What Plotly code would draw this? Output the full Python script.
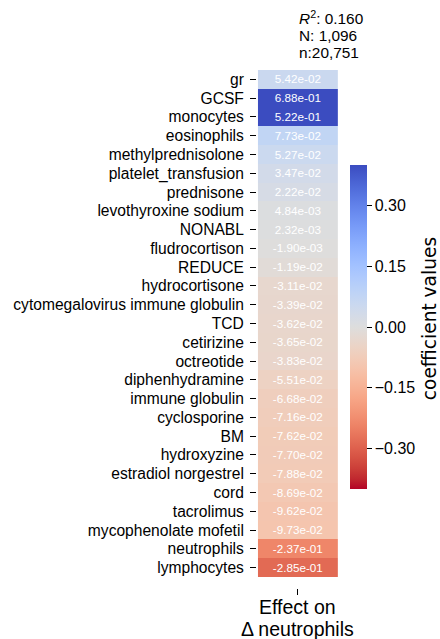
import plotly.graph_objects as go

# Regression coefficients for the change in neutrophil counts
features = [
    "gr", "GCSF", "monocytes", "eosinophils", "methylprednisolone",
    "platelet_transfusion", "prednisone", "levothyroxine sodium", "NONABL",
    "fludrocortison", "REDUCE", "hydrocortisone",
    "cytomegalovirus immune globulin", "TCD", "cetirizine", "octreotide",
    "diphenhydramine", "immune globulin", "cyclosporine", "BM", "hydroxyzine",
    "estradiol norgestrel", "cord", "tacrolimus", "mycophenolate mofetil",
    "neutrophils", "lymphocytes",
]
coefficients = [
    5.42e-02, 6.88e-01, 5.22e-01, 7.73e-02, 5.27e-02,
    3.47e-02, 2.22e-02, 4.84e-03, 2.32e-03,
    -1.90e-03, -1.19e-02, -3.11e-02,
    -3.39e-02, -3.62e-02, -3.65e-02, -3.83e-02,
    -5.51e-02, -6.68e-02, -7.16e-02, -7.62e-02, -7.70e-02,
    -7.88e-02, -8.69e-02, -9.62e-02, -9.73e-02,
    -2.37e-01, -2.85e-01,
]
column_label_lines = ["Effect on", "Δ neutrophils"]
r_squared = 0.160
n_patients = 1096
n_samples = 20751
cbar_ticks = [-0.30, -0.15, 0.00, 0.15, 0.30]

# Reversed "coolwarm" diverging palette (red = negative, blue = positive)
coolwarm = [
    (59, 76, 192), (68, 90, 204), (77, 104, 215), (87, 117, 225),
    (98, 130, 234), (108, 142, 241), (119, 154, 247), (130, 165, 251),
    (141, 176, 254), (152, 185, 255), (163, 194, 255), (174, 201, 253),
    (184, 208, 249), (194, 213, 244), (204, 217, 238), (213, 219, 230),
    (221, 221, 221), (229, 216, 209), (236, 211, 197), (241, 204, 185),
    (245, 196, 173), (247, 187, 160), (247, 177, 148), (247, 166, 135),
    (244, 154, 123), (241, 141, 111), (236, 127, 99), (229, 112, 88),
    (222, 96, 77), (213, 80, 66), (203, 62, 56), (192, 40, 47),
    (180, 4, 38),
]
rev = coolwarm[::-1]
colorscale = [[i / (len(rev) - 1), "rgb(%d,%d,%d)" % c] for i, c in enumerate(rev)]

cell_text = [[f"{v:.2e}"] for v in coefficients]

ARIAL = "Liberation Sans, Arial, sans-serif"

# plot area in pixels: x 256..345, y 70..588
PL, PR, PT, PB = 256, 345, 70, 588
PW, PH = PR - PL, PB - PT


def px_x(x):
    return (x - PL) / PW


def px_y(y):
    return (PB - y) / PH


fig = go.Figure(
    go.Heatmap(
        z=[[v] for v in coefficients],
        x=[0],
        y=features,
        zmin=-0.4,
        zmax=0.4,
        colorscale=colorscale,
        text=cell_text,
        texttemplate="%{text}",
        textfont=dict(family=ARIAL, size=11.7, color="white"),
        hoverinfo="skip",
        colorbar=dict(
            xref="container",
            x=350 / 440,
            xanchor="left",
            yref="paper",
            y=px_y(327),
            yanchor="middle",
            len=324 / PH,
            lenmode="fraction",
            thickness=17,
            outlinewidth=0,
            xpad=0,
            ypad=0,
            tickvals=cbar_ticks,
            tickformat=".2f",
            ticks="outside",
            ticklen=5,
            tickwidth=1,
            tickcolor="black",
            tickfont=dict(family=ARIAL, size=16, color="black"),
        ),
    )
)

annotations = [
    dict(
        text="coefficient values",
        xref="paper", yref="paper",
        x=px_x(444), y=px_y(319),
        xanchor="center", yanchor="middle",
        textangle=-90,
        showarrow=False,
        font=dict(family="DejaVu Sans, sans-serif", size=18.6, color="black"),
    )
]

stats_lines = [
    f"<i>R</i><sup>2</sup>: {r_squared:.3f}",
    f"N: {n_patients:,}",
    f"n:{n_samples:,}",
]
for line, yc in zip(stats_lines, [18, 36, 53]):
    annotations.append(dict(
        text=line,
        xref="paper", yref="paper",
        x=px_x(301), y=px_y(yc),
        xanchor="left", yanchor="middle",
        align="left", showarrow=False,
        font=dict(family=ARIAL, size=15.4, color="black"),
    ))

for line, yc in zip(column_label_lines, [607, 629]):
    annotations.append(dict(
        text=line,
        xref="x", yref="paper",
        x=0, y=px_y(yc),
        xanchor="center", yanchor="middle",
        showarrow=False,
        font=dict(family=ARIAL, size=19.5, color="black"),
    ))

fig.update_layout(
    width=440,
    height=639,
    margin=dict(l=PL, r=440 - PR, t=PT, b=639 - PB),
    paper_bgcolor="white",
    plot_bgcolor="white",
    xaxis=dict(
        domain=[2 / PW, 1],
        range=[-0.5, 0.5],
        tickvals=[0],
        ticktext=[" "],
        ticks="outside",
        ticklen=6,
        tickwidth=1,
        tickcolor="black",
        showgrid=False,
        zeroline=False,
        showline=False,
        anchor="free",
        position=0,
    ),
    yaxis=dict(
        domain=[px_y(577), 1],
        autorange="reversed",
        tickmode="array",
        tickvals=features,
        ticktext=features,
        ticks="outside",
        ticklen=6,
        tickwidth=1,
        tickcolor="black",
        ticklabelstandoff=3,
        tickfont=dict(family=ARIAL, size=15.6, color="black"),
        showgrid=False,
        zeroline=False,
        showline=False,
        anchor="free",
        position=0,
    ),
    annotations=annotations,
)

fig.write_html("out.html")
